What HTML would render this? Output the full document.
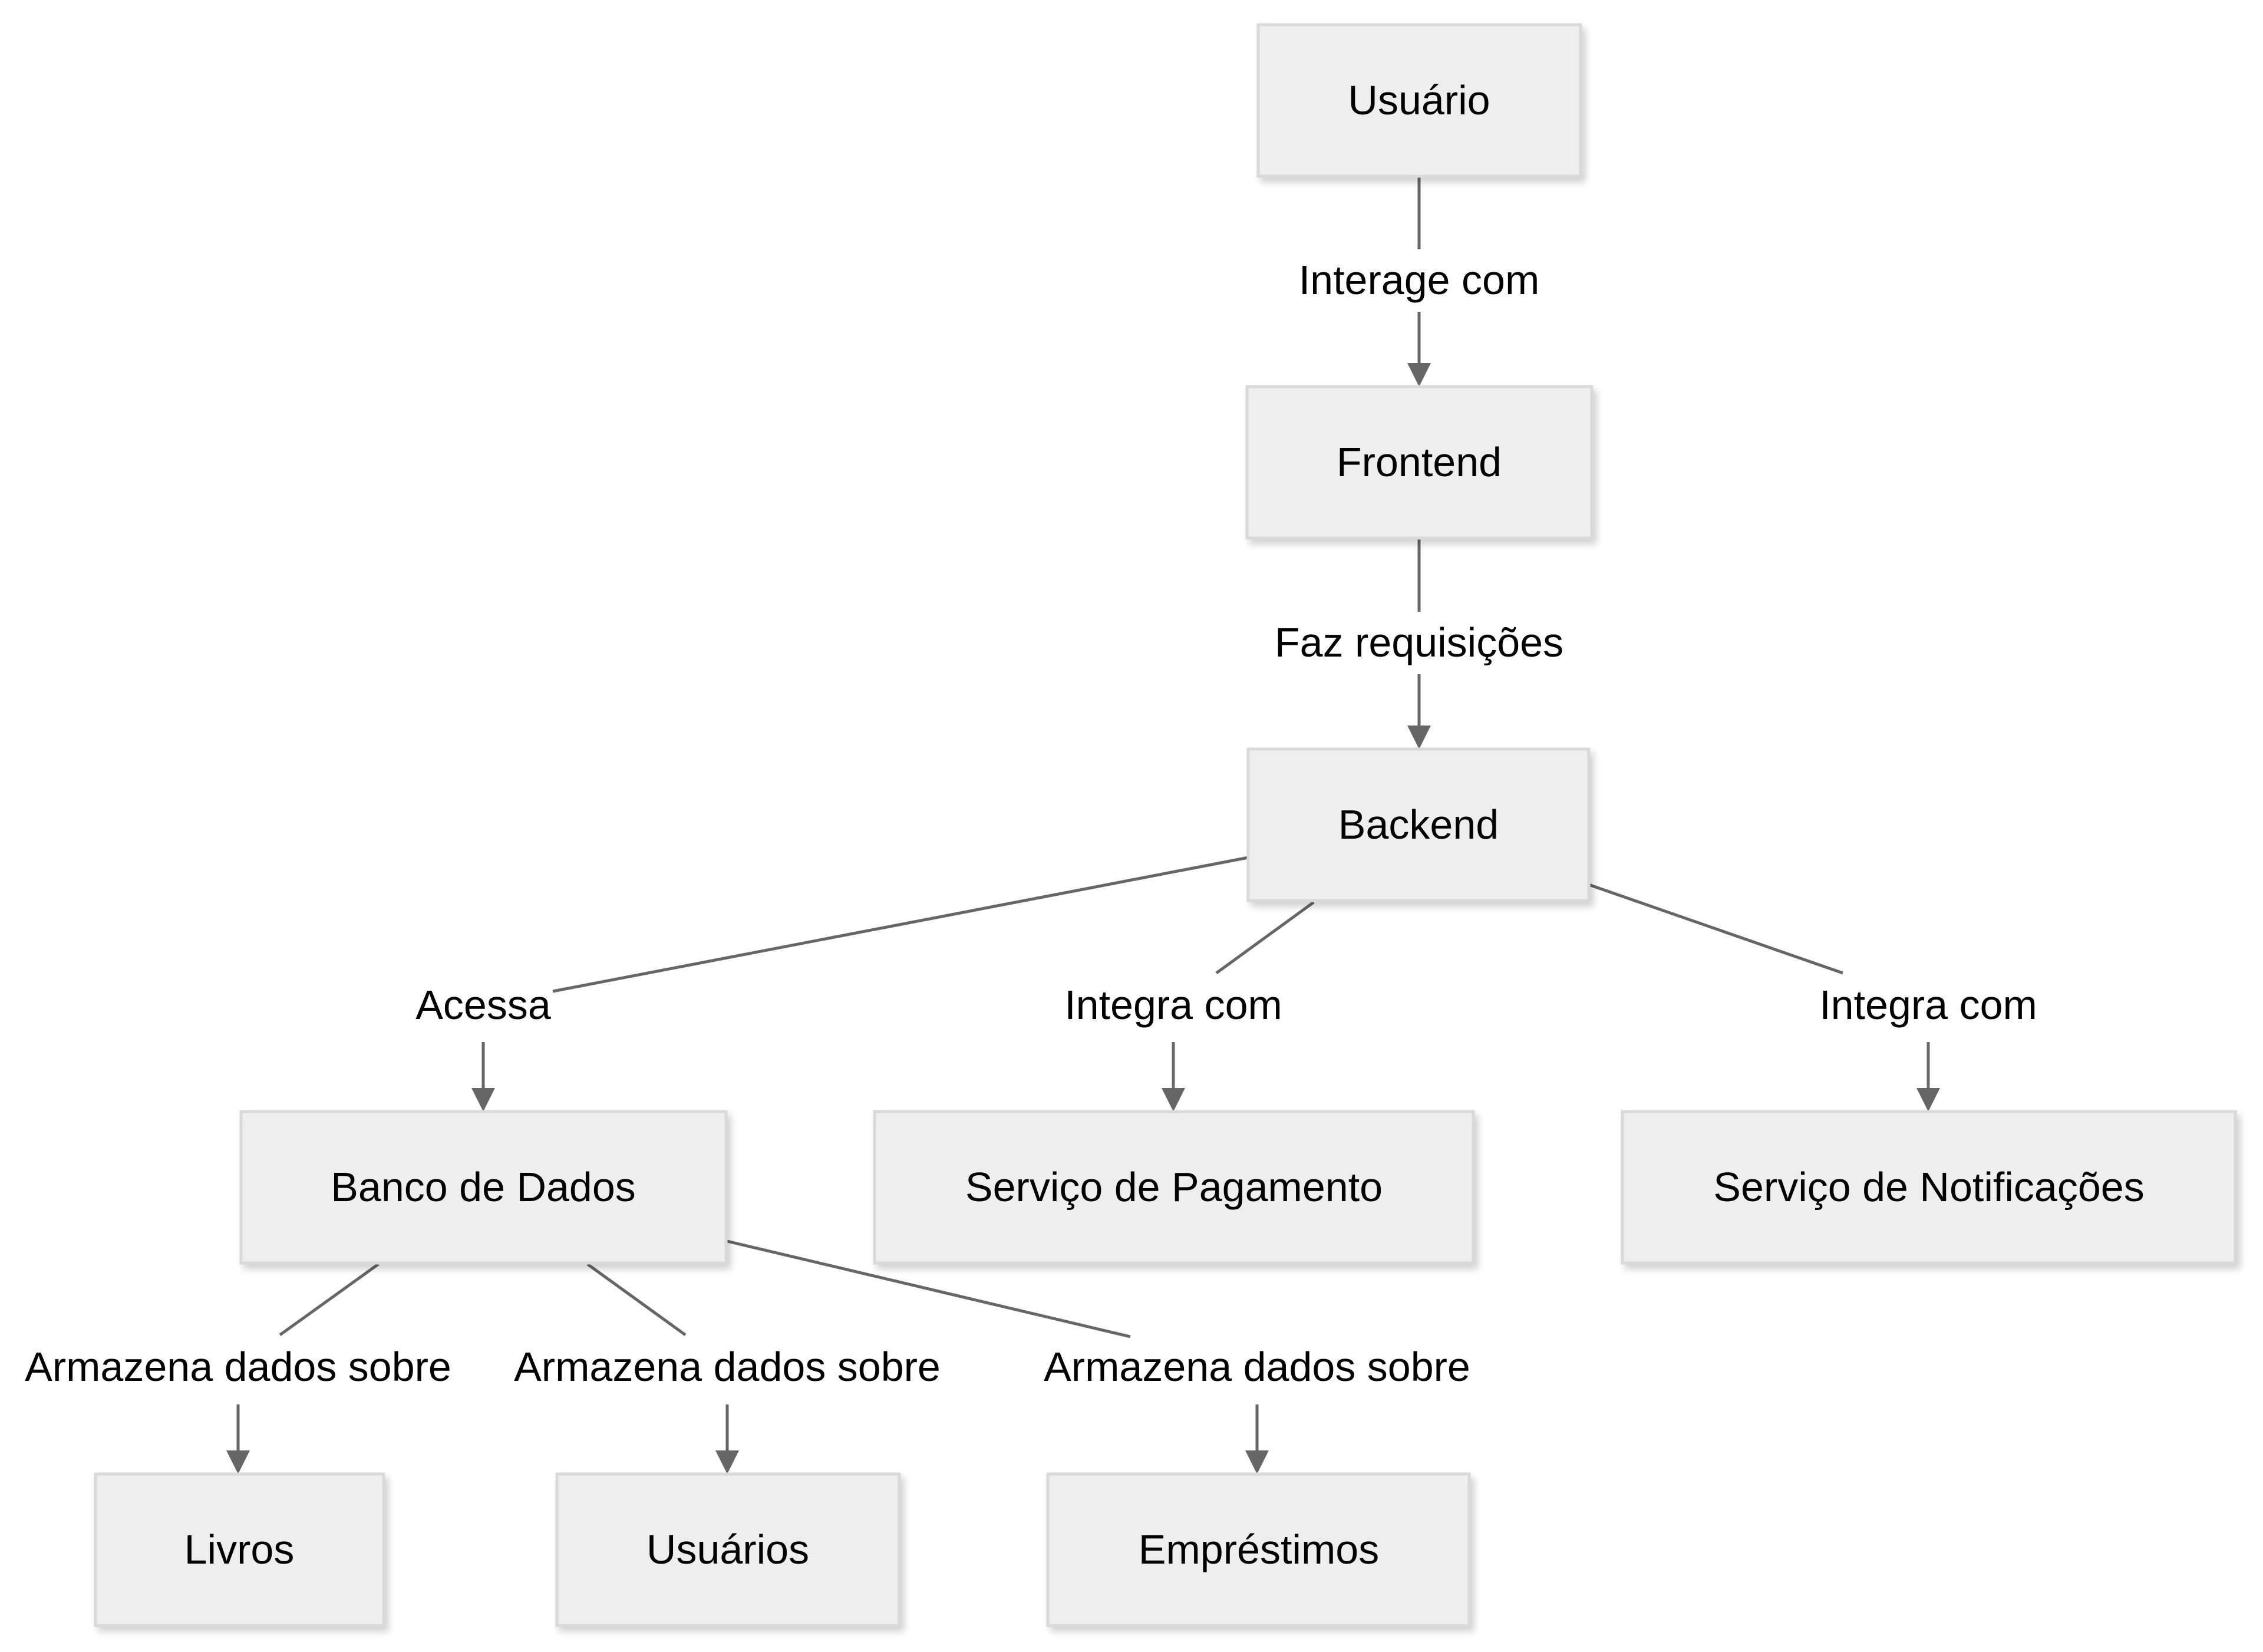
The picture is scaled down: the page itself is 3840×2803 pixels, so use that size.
<!DOCTYPE html>
<html><head><meta charset="utf-8"><style>
html,body{margin:0;padding:0;background:#fff;}
svg{display:block;}
text{font-family:"Liberation Sans",Arial,sans-serif;font-size:70px;fill:#000;text-anchor:middle;dominant-baseline:central;}
.b{fill:#eeeeee;stroke:#d9d9d9;stroke-width:5;filter:url(#sh);}
.l{stroke:#666;stroke-width:5;fill:none;}
.a{fill:#666;}
</style></head><body>
<svg width="3840" height="2803" viewBox="0 0 3840 2803" xmlns="http://www.w3.org/2000/svg">
<defs><filter id="sh" x="-10%" y="-10%" width="130%" height="140%"><feDropShadow dx="6" dy="8" stdDeviation="6" flood-color="#000" flood-opacity="0.18"/></filter></defs>
<!-- lines -->
<line class="l" x1="2408" y1="299" x2="2408" y2="423"/>
<line class="l" x1="2408" y1="529" x2="2408" y2="620"/>
<polygon class="a" points="2388,616 2428,616 2408,656"/>
<text x="2408" y="475">Interage com</text>

<line class="l" x1="2408" y1="913" x2="2408" y2="1038"/>
<line class="l" x1="2408" y1="1144" x2="2408" y2="1235"/>
<polygon class="a" points="2388,1231 2428,1231 2408,1271"/>
<text x="2408" y="1090">Faz requisições</text>

<line class="l" x1="2118" y1="1455" x2="938" y2="1682"/>
<line class="l" x1="820" y1="1768" x2="820" y2="1850"/>
<polygon class="a" points="800,1846 840,1846 820,1886"/>
<text x="820" y="1705">Acessa</text>

<line class="l" x1="2229" y1="1531" x2="2064" y2="1651"/>
<line class="l" x1="1991" y1="1768" x2="1991" y2="1850"/>
<polygon class="a" points="1971,1846 2011,1846 1991,1886"/>
<text x="1991" y="1705">Integra com</text>

<line class="l" x1="2696" y1="1501" x2="3127" y2="1651"/>
<line class="l" x1="3272" y1="1768" x2="3272" y2="1850"/>
<polygon class="a" points="3252,1846 3292,1846 3272,1886"/>
<text x="3272" y="1705">Integra com</text>

<line class="l" x1="642" y1="2145" x2="475" y2="2265"/>
<line class="l" x1="404" y1="2383" x2="404" y2="2465"/>
<polygon class="a" points="384,2461 424,2461 404,2501"/>
<text x="404" y="2319">Armazena dados sobre</text>

<line class="l" x1="997" y1="2145" x2="1163" y2="2265"/>
<line class="l" x1="1234" y1="2383" x2="1234" y2="2465"/>
<polygon class="a" points="1214,2461 1254,2461 1234,2501"/>
<text x="1234" y="2319">Armazena dados sobre</text>

<line class="l" x1="1234" y1="2106" x2="1918" y2="2268"/>
<line class="l" x1="2133" y1="2383" x2="2133" y2="2465"/>
<polygon class="a" points="2113,2461 2153,2461 2133,2501"/>
<text x="2133" y="2319">Armazena dados sobre</text>

<!-- boxes -->
<rect class="b" x="2135" y="42" width="547" height="257"/><text x="2408" y="170">Usuário</text>
<rect class="b" x="2116" y="656" width="585" height="257"/><text x="2408" y="784">Frontend</text>
<rect class="b" x="2118" y="1271" width="578" height="257"/><text x="2407" y="1399">Backend</text>
<rect class="b" x="409" y="1886" width="823" height="257"/><text x="820" y="2014">Banco de Dados</text>
<rect class="b" x="1484" y="1886" width="1016" height="257"/><text x="1992" y="2014">Serviço de Pagamento</text>
<rect class="b" x="2753" y="1886" width="1040" height="257"/><text x="3273" y="2014">Serviço de Notificações</text>
<rect class="b" x="162" y="2501" width="489" height="257"/><text x="406" y="2629">Livros</text>
<rect class="b" x="945" y="2501" width="581" height="257"/><text x="1235" y="2629">Usuários</text>
<rect class="b" x="1778" y="2501" width="715" height="257"/><text x="2136" y="2629">Empréstimos</text>
</svg>
</body></html>
